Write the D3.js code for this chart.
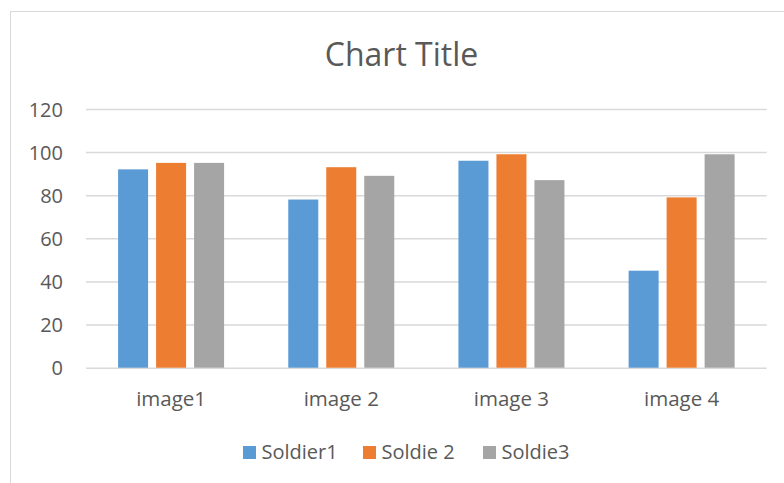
<!DOCTYPE html>
<html><head><meta charset="utf-8">
<script src="https://cdn.jsdelivr.net/npm/d3@7"></script>
<style>
html,body{margin:0;padding:0;background:#fff;}
text{font-family:"Open Sans",sans-serif;fill:#595959;}
</style></head>
<body>
<svg id="chart" width="784" height="483"></svg>
<script>
const categories = ["image1", "image 2", "image 3", "image 4"];
const seriesNames = ["Soldier1", "Soldie 2", "Soldie3"];
const soldier1 = [92, 78, 96, 45];
const soldier2 = [95, 93, 99, 79];
const soldier3 = [95, 89, 87, 99];
const yTicks = [0, 20, 40, 60, 80, 100, 120];
const colors = ["#5b9bd5", "#ed7d31", "#a5a5a5"];
const chartTitle = "Chart Title";

const seriesValues = [soldier1, soldier2, soldier3];
const svg = d3.select("#chart");

// outer chart border
svg.append("rect").attr("x", 10.5).attr("y", 11.5).attr("width", 800).attr("height", 500)
  .attr("fill", "none").attr("stroke", "#d9d9d9").attr("stroke-width", 1);

const plotL = 86, plotR = 766.7, plotT = 109, plotB = 367.7;
const x0 = d3.scaleBand().domain(categories).range([plotL, plotR]).padding(0);
const groupPad = (x0.bandwidth() - 106) / 2;
const x1 = d3.scaleBand().domain(seriesNames).range([groupPad, x0.bandwidth() - groupPad]).paddingInner(0.21).paddingOuter(0);
const y = d3.scaleLinear().domain([0, 120]).range([plotB, plotT]);

// gridlines
const grid = svg.append("g").attr("transform", `translate(${plotL},0)`)
  .call(d3.axisLeft(y).tickValues(yTicks).tickSize(-(plotR - plotL)).tickFormat(""));
grid.select(".domain").remove();
grid.selectAll("line").attr("stroke", "#d9d9d9").attr("stroke-width", 1.5);

// y labels
const yAxis = svg.append("g").attr("transform", `translate(63,0)`)
  .call(d3.axisLeft(y).tickValues(yTicks).tickSize(0).tickPadding(0));
yAxis.select(".domain").remove();
yAxis.selectAll("text").style("font-size", "20px").attr("fill", "#595959").attr("dy", "0.36em");

// bars
const groups = svg.append("g").selectAll("g").data(categories).join("g")
  .attr("transform", d => `translate(${x0(d)},0)`);
groups.selectAll("rect").data((d, i) => seriesNames.map((s, j) => ({s, v: seriesValues[j][i], j})))
  .join("rect")
  .attr("x", d => x1(d.s)).attr("width", x1.bandwidth())
  .attr("y", d => y(d.v)).attr("height", d => y(0) - y(d.v))
  .attr("fill", d => colors[d.j]);

// x labels
const xAxis = svg.append("g").attr("transform", `translate(0,${plotB})`)
  .call(d3.axisBottom(x0).tickSize(0).tickPadding(0));
xAxis.select(".domain").remove();
xAxis.selectAll("text").style("font-size", "20.5px").attr("fill", "#595959").attr("dy", null).attr("y", 38.5);

// title
svg.append("text").attr("x", 401.5).attr("y", 66).attr("text-anchor", "middle")
  .style("font-size", "32px").text(chartTitle);

// legend
const legendX = [243, 363, 483];
const lg = svg.append("g").selectAll("g").data(seriesNames).join("g")
  .attr("transform", (d, i) => `translate(${legendX[i]},446)`);
lg.append("rect").attr("width", 13).attr("height", 13).attr("fill", (d, i) => colors[i]);
lg.append("text").attr("x", 18.5).attr("y", 12.5).style("font-size", "20px").text(d => d);
</script>
</body></html>
